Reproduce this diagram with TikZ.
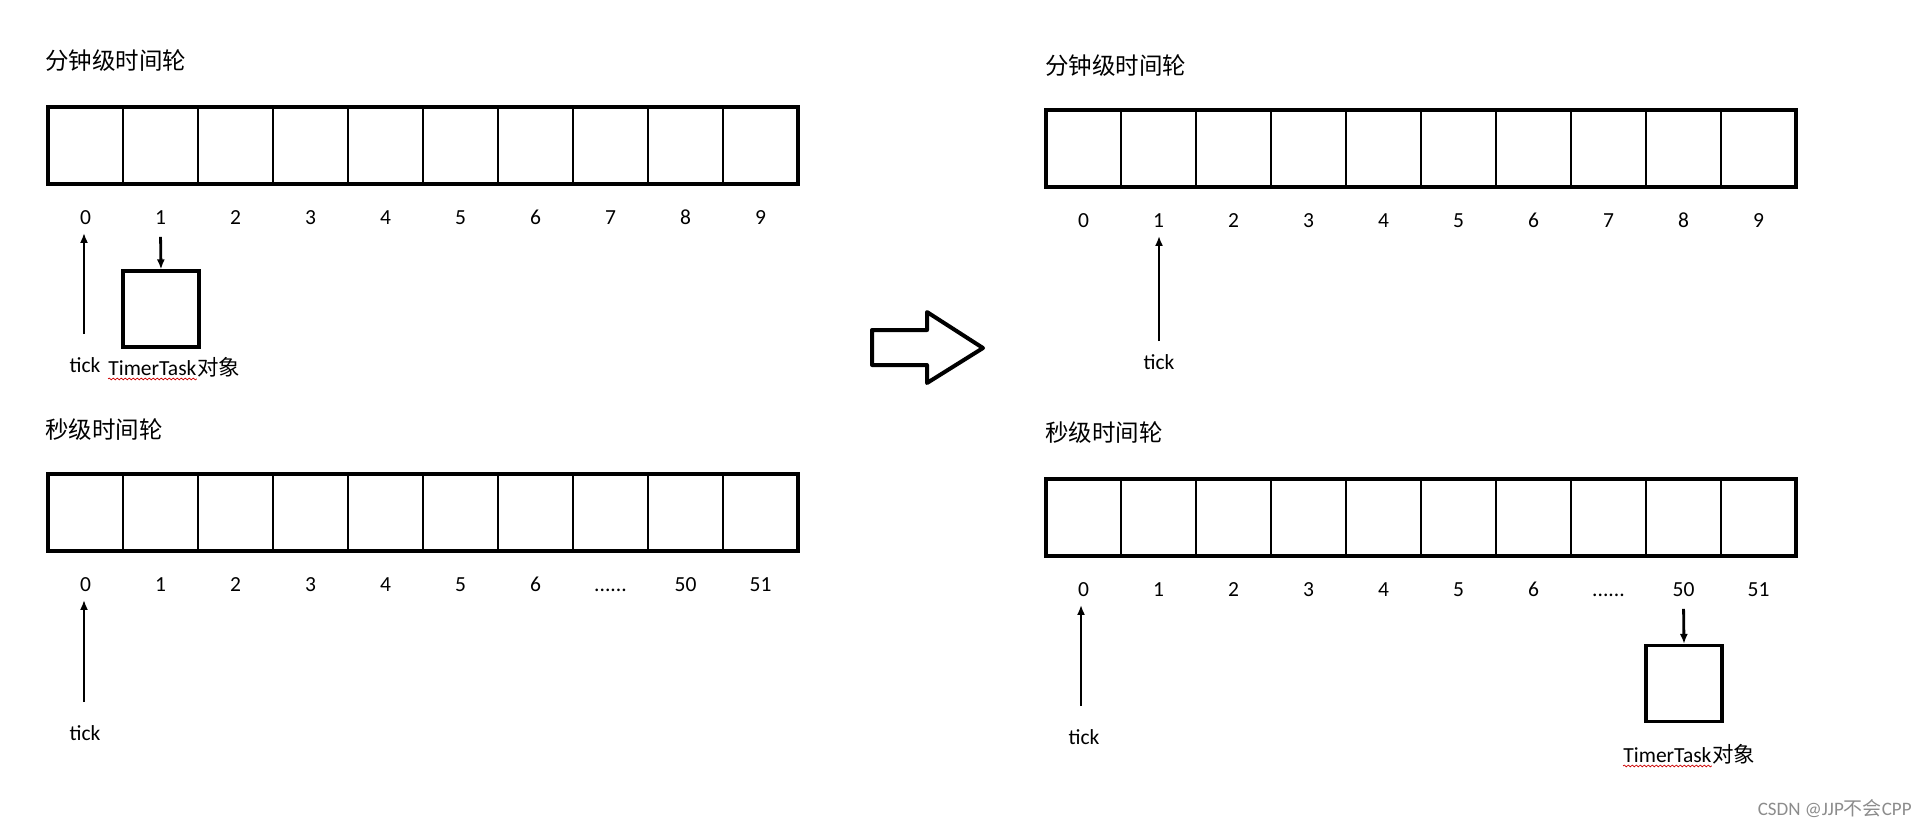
\documentclass[tikz,border=0pt]{standalone}
\usepackage{fontspec}
\setmainfont{Carlito}
\newfontfamily\cjk{Noto Sans CJK SC}
\usetikzlibrary{arrows.meta, positioning, decorations.pathmorphing}

\newcommand{\wheeldots}{......}

\begin{document}
\begin{tikzpicture}[
    x=0.5pt, y=-0.5pt,
    slot/.style={draw, line width=1.25pt, minimum width=37.5pt, minimum height=38.5pt,
                 inner sep=0pt, outer sep=0pt},
    frame/.style={draw, line width=1.75pt},
    idx/.style={font=\fontsize{10.75}{12}\selectfont, inner sep=0pt,
                text height=6.9pt, text depth=0pt, outer sep=4pt},
    title/.style={anchor=west, inner sep=0pt, font=\fontsize{11.75}{14}\cjk},
    lbl/.style={font=\fontsize{10.75}{12}\selectfont, inner sep=0pt},
    ptr/.style={-{Latex[length=5pt, width=4pt]}, line width=1.4pt},
    task/.style={draw, line width=1.6pt, minimum size=38pt, inner sep=0pt},
    spell/.style={red!80!black, line width=0.35pt, decorate,
                  decoration={snake, amplitude=0.45pt, segment length=2pt}}
  ]
  \useasboundingbox (0,0) rectangle (1925,827);

  % titles
  \node[title] (tmA) at (45, 61) {分钟级时间轮};
  \node[title] (tsA) at (45, 430) {秒级时间轮};
  \node[title] (tmB) at (1045, 66) {分钟级时间轮};
  \node[title] (tsB) at (1045, 433) {秒级时间轮};

  % minute wheels
  \foreach \w/\ox/\oy in {mA/48/107, mB/1046/110} {
    \foreach \v [count=\i from 0] in {0,...,9} {
      \node[slot] (\w\i) at (\ox+37.5+\i*75, \oy+38.5) {};
      \node[idx] (\w l\i) at (\ox+37.5+\i*75, \oy+111) {\v};
    }
    \draw[frame] (\w0.north west) rectangle (\w9.south east);
  }

  % second wheels
  \foreach \w/\ox/\oy in {sA/48/474, sB/1046/479} {
    \foreach \v [count=\i from 0] in {0,1,2,3,4,5,6,\wheeldots,50,51} {
      \node[slot] (\w\i) at (\ox+37.5+\i*75, \oy+38.5) {};
      \node[idx] (\w l\i) at (\ox+37.5+\i*75, \oy+111) {\v};
    }
    \draw[frame] (\w0.north west) rectangle (\w9.south east);
  }

  % tick pointers
  \coordinate (pmA) at (84, 334);
  \coordinate (psA) at (84, 702);
  \coordinate (pmB) at (1159, 341);
  \coordinate (psB) at (1081, 706);
  \draw[ptr] (pmA) -- (pmA |- mAl0.south);
  \draw[ptr] (psA) -- (psA |- sAl0.south);
  \draw[ptr] (pmB) -- (pmB |- mBl1.south);
  \draw[ptr] (psB) -- (psB |- sBl0.south);
  \node[lbl] (kmA) at (85, 365) {tick};
  \node[lbl] (ksA) at (85, 733) {tick};
  \node[lbl] (kmB) at (1159, 362) {tick};
  \node[lbl] (ksB) at (1084, 737) {tick};

  % timer tasks
  \node[task] (taskA) at (161, 309) {};
  \node[task] (taskB) at (1684, 683.5) {};
  \draw[ptr, shorten <=2pt] (mAl1.south) -- (taskA.north);
  \draw[ptr, shorten <=2pt] (sBl8.south) -- (taskB.north);

  \node[lbl, anchor=west] (ttA) at (108, 368) {TimerTask};
  \node[lbl, anchor=base west, font=\fontsize{10.75}{12}\cjk] (dxA) at (ttA.base east) {对象};
  \draw[spell] ([yshift=-1.5pt]ttA.south west) -- ([yshift=-1.5pt]ttA.south east);
  \node[lbl, anchor=west] (ttB) at (1623, 755) {TimerTask};
  \node[lbl, anchor=base west, font=\fontsize{10.75}{12}\cjk] (dxB) at (ttB.base east) {对象};
  \draw[spell] ([yshift=-1.5pt]ttB.south west) -- ([yshift=-1.5pt]ttB.south east);

  % shift arrow
  \draw[line width=2pt, line join=round]
    (872,330) -- (927,330) -- (927,312) -- (983,348) -- (927,383)
    -- (927,365) -- (872,365) -- cycle;

  \node[anchor=east, inner sep=0pt, text=black!45,
        font=\fontsize{9.5}{11}\selectfont] (mark) at (1912, 809)
    {CSDN @JJP{\cjk 不会}CPP};
\end{tikzpicture}
\end{document}
